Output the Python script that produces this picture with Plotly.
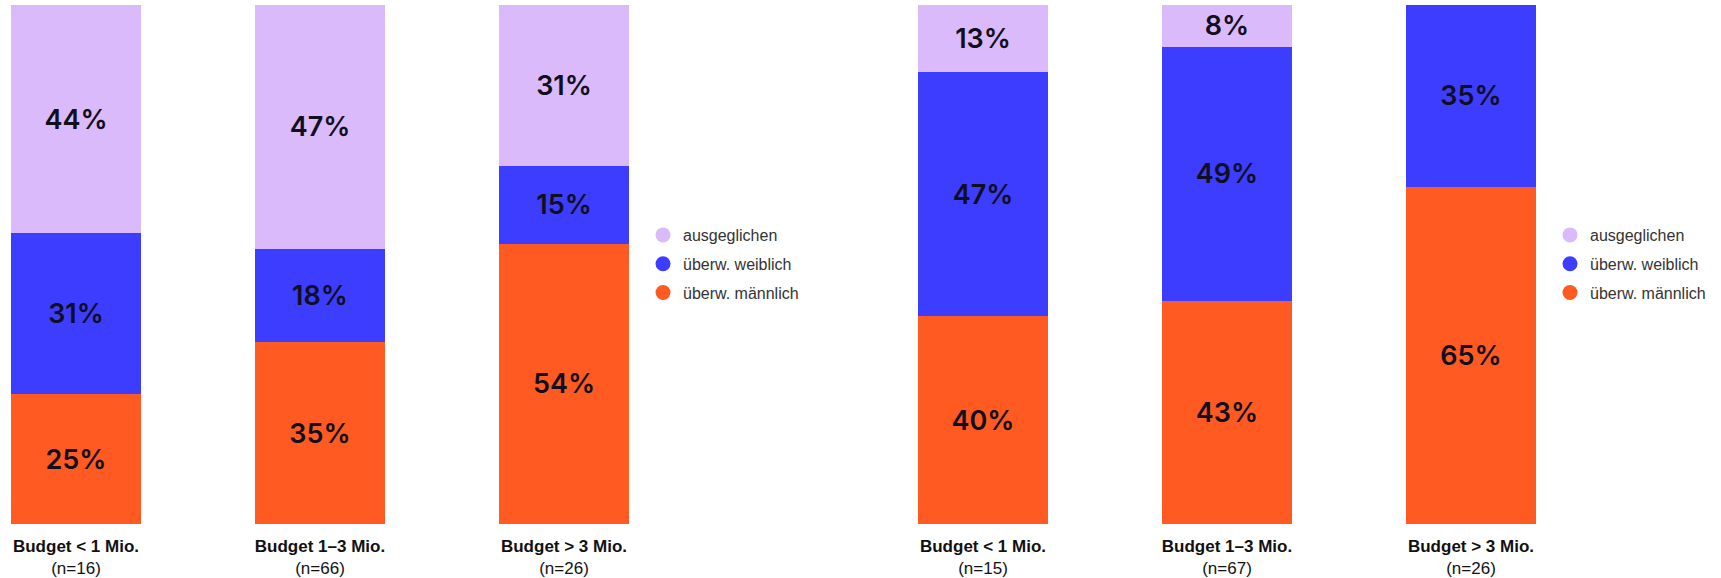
import plotly.graph_objects as go

W, H = 1721, 578

categories = ["Budget &lt; 1 Mio.", "Budget 1–3 Mio.", "Budget &gt; 3 Mio."]
n_left = [16, 66, 26]
n_right = [15, 67, 26]

series_names = ["überw. männlich", "überw. weiblich", "ausgeglichen"]
colors = {"überw. männlich": "#FF5A22", "überw. weiblich": "#3D3DFF", "ausgeglichen": "#DBBAFC"}

left_maennlich = [25, 35, 54]
left_weiblich = [31, 18, 15]
left_ausgeglichen = [44, 47, 31]

right_maennlich = [40, 43, 65]
right_weiblich = [47, 49, 35]
right_ausgeglichen = [13, 8, 0]

left_vals = {"überw. männlich": left_maennlich, "überw. weiblich": left_weiblich, "ausgeglichen": left_ausgeglichen}
right_vals = {"überw. männlich": right_maennlich, "überw. weiblich": right_weiblich, "ausgeglichen": right_ausgeglichen}

FONT = "Liberation Sans, Arial, sans-serif"
PCT_FONT = "Inter, Liberation Sans, sans-serif"

fig = go.Figure()
x_idx = [0, 1, 2]
for side, vals, xa, ya in [("l", left_vals, "x", "y"), ("r", right_vals, "x2", "y2")]:
    for name in series_names:
        v = vals[name]
        fig.add_trace(go.Bar(
            x=x_idx, y=v, xaxis=xa, yaxis=ya, name=name,
            marker=dict(color=colors[name], line=dict(width=0)),
            width=0.533,
            text=[f"{t}%" if t > 0 else "" for t in v],
            textposition="inside", insidetextanchor="middle",
            textfont=dict(family=PCT_FONT, size=27, color="#0f0f1e", weight=600),
            constraintext="none",
            showlegend=False, hoverinfo="skip",
        ))

# legend entries (circle markers)
for leg, xa, ya in [("legend", "x", "y"), ("legend2", "x2", "y2")]:
    for name in ["ausgeglichen", "überw. weiblich", "überw. männlich"]:
        fig.add_trace(go.Scatter(
            x=[None], y=[None], xaxis=xa, yaxis=ya, mode="markers", name=name,
            marker=dict(color=colors[name], size=15, symbol="circle"),
            legend=leg, legendgroup=leg + name, showlegend=True,
        ))

ticktext_l = [f"<b>{c}</b><br>(n={n})" for c, n in zip(categories, n_left)]
ticktext_r = [f"<b>{c}</b><br>(n={n})" for c, n in zip(categories, n_right)]

px_per = 244.0
l_r0 = -76 / px_per
l_d1 = 650
r_d0, r_d1 = 860, 1540
r_r0 = -(983 - r_d0) / px_per

axis_common = dict(showgrid=False, zeroline=False, showline=False, ticks="",
                   ticklabelstandoff=10,
                   tickfont=dict(family=FONT, size=17, color="#111111"))

legend_common = dict(
    font=dict(family=FONT, size=16, color="#333333"),
    traceorder="grouped", tracegroupgap=5, itemwidth=30,
    bgcolor="rgba(0,0,0,0)", yanchor="top", xanchor="left",
)

fig.update_layout(
    width=W, height=H,
    margin=dict(l=0, r=0, t=5, b=54),
    plot_bgcolor="white", paper_bgcolor="white",
    barmode="stack",
    xaxis=dict(domain=[0, l_d1 / W], range=[l_r0, l_r0 + l_d1 / px_per],
               tickmode="array", tickvals=x_idx, ticktext=ticktext_l, **axis_common),
    xaxis2=dict(domain=[r_d0 / W, r_d1 / W], range=[r_r0, r_r0 + (r_d1 - r_d0) / px_per],
                tickmode="array", tickvals=x_idx, ticktext=ticktext_r, **axis_common),
    yaxis=dict(range=[0, 100], visible=False, domain=[0, 1]),
    yaxis2=dict(range=[0, 100], visible=False, domain=[0, 1], anchor="x2"),
    legend=dict(x=643 / W, y=1 - (218 - 5) / 519, **legend_common),
    legend2=dict(x=1550 / W, y=1 - (218 - 5) / 519, **legend_common),
    showlegend=True,
)

fig.write_html("out.html", config={"displayModeBar": False},
               post_script="document.body.style.margin='0px';")
